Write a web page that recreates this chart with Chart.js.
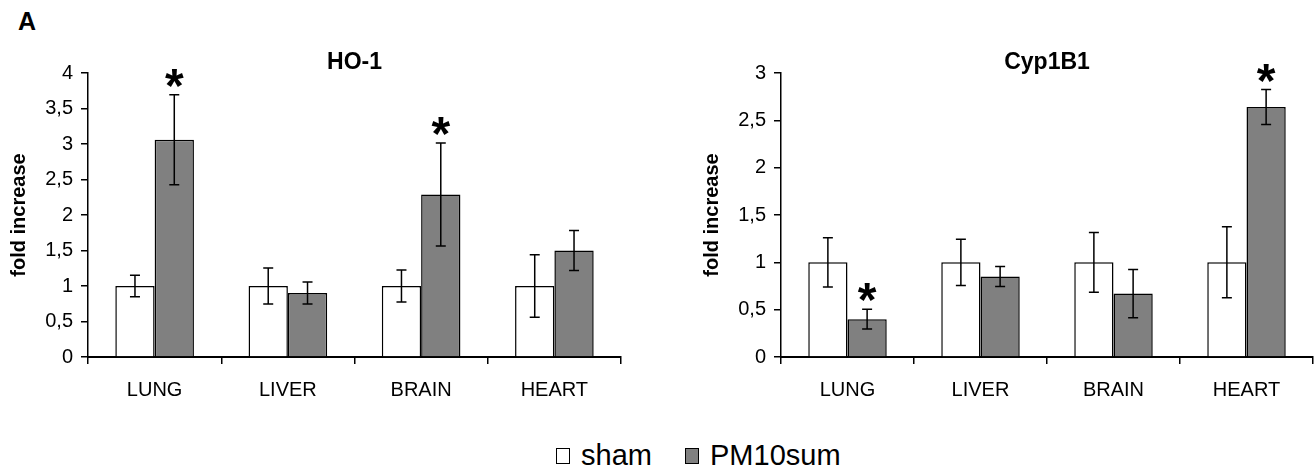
<!DOCTYPE html>
<html>
<head>
<meta charset="utf-8">
<script src="https://cdn.jsdelivr.net/npm/chart.js@4/dist/chart.umd.min.js"></script>
<style>
  body { margin: 0; background: #fff; width: 1316px; height: 469px; position: relative; overflow: hidden; font-family: "Liberation Sans", Arial, sans-serif; }
  .panel { position: absolute; top: 0; }
  #letter { position: absolute; left: 18px; top: 9px; font: bold 25px/25px "Liberation Sans", Arial, sans-serif; }
  .legend-box { position: absolute; width: 12px; height: 14px; border: 1.5px solid #000; }
  .legend-text { position: absolute; font: 29px/28px "Liberation Sans", Arial, sans-serif; color: #000; }
</style>
</head>
<body>
<div id="letter">A</div>
<div class="panel" style="left:0px"><canvas id="hoChart" width="640" height="420"></canvas></div>
<div class="panel" style="left:693px"><canvas id="cypChart" width="623" height="420"></canvas></div>

<div class="legend-box" style="left:556px; top:448px; background:#fff"></div>
<div class="legend-text" style="left:581px; top:441px">sham</div>
<div class="legend-box" style="left:685px; top:448px; background:#808080"></div>
<div class="legend-text" style="left:710px; top:441px">PM10sum</div>

<script>
const categories = ['LUNG', 'LIVER', 'BRAIN', 'HEART'];
const seriesNames = ['sham', 'PM10sum'];

// HO-1
const hoSham = [1, 1, 1, 1];
const hoShamErr = [0.15, 0.255, 0.225, 0.44];
const hoPm = [3.06, 0.9, 2.29, 1.5];
const hoPmErr = [0.635, 0.155, 0.725, 0.28];
const hoStars = [true, false, true, false];
const hoTicks = [0, 0.5, 1, 1.5, 2, 2.5, 3, 3.5, 4];

// Cyp1B1
const cypSham = [1, 1, 1, 1];
const cypShamErr = [0.26, 0.245, 0.315, 0.375];
const cypPm = [0.4, 0.85, 0.67, 2.64];
const cypPmErr = [0.105, 0.105, 0.255, 0.185];
const cypStars = [true, false, false, true];
const cypTicks = [0, 0.5, 1, 1.5, 2, 2.5, 3];

const FONT = '"Liberation Sans", Arial, sans-serif';

/* error bars + significance stars, drawn from the bar elements */
const errorBarPlugin = {
  id: 'errorBars',
  afterDatasetsDraw: function (chart) {
    const ctx = chart.ctx;
    const yScale = chart.scales.y;
    ctx.save();
    ctx.strokeStyle = '#000';
    ctx.lineWidth = 1.5;
    chart.data.datasets.forEach(function (ds, i) {
      const meta = chart.getDatasetMeta(i);
      meta.data.forEach(function (bar, j) {
        const v = ds.data[j];
        const e = ds.errors[j];
        const top = yScale.getPixelForValue(v + e);
        const bot = yScale.getPixelForValue(v - e);
        ctx.beginPath();
        ctx.moveTo(bar.x, top); ctx.lineTo(bar.x, bot);
        ctx.moveTo(bar.x - 5, top); ctx.lineTo(bar.x + 5, top);
        ctx.moveTo(bar.x - 5, bot); ctx.lineTo(bar.x + 5, bot);
        ctx.stroke();

        if (ds.stars && ds.stars[j]) {
          ctx.font = 'bold 48px ' + FONT;
          ctx.textAlign = 'center';
          ctx.textBaseline = 'alphabetic';
          ctx.fillStyle = '#000';
          const m = ctx.measureText('*');
          const cy = top - 17;
          const base = cy - (m.actualBoundingBoxDescent - m.actualBoundingBoxAscent) / 2;
          ctx.fillText('*', bar.x, base);
        }
      });
    });
    ctx.restore();
  }
};

/* panel title centred over the plot area, not the whole canvas */
const panelTitlePlugin = {
  id: 'panelTitle',
  afterDraw: function (chart, args, opts) {
    const ctx = chart.ctx;
    const area = chart.chartArea;
    ctx.save();
    ctx.font = 'bold 23px ' + FONT;
    ctx.fillStyle = '#000';
    ctx.textAlign = 'center';
    ctx.textBaseline = 'middle';
    ctx.fillText(opts.text, (area.left + area.right) / 2, 63);
    ctx.restore();
  }
};

const app = {
  buildChart: function (canvasId, title, sham, shamErr, pm, pmErr, stars, ticks, rightPad) {
    const ctx = document.getElementById(canvasId).getContext('2d');

    // eslint-disable-next-line no-undef
    return new Chart(ctx, {
      type: 'bar',
      data: {
        labels: categories,
        datasets: [{
          label: seriesNames[0],
          data: sham,
          errors: shamErr,
          backgroundColor: '#ffffff',
          borderColor: '#000000',
          borderWidth: 1.5,
        },
        {
          label: seriesNames[1],
          data: pm,
          errors: pmErr,
          stars: stars,
          backgroundColor: '#808080',
          borderColor: '#000000',
          borderWidth: 1.5,
        }]
      },
      options: {
        responsive: false,
        animation: false,
        devicePixelRatio: 1,
        categoryPercentage: 0.59,
        barPercentage: 1.0,
        layout: { padding: { left: 0, right: rightPad, top: 73, bottom: 0 } },
        plugins: {
          legend: { display: false },
          tooltip: { enabled: false },
          title: { display: false },
          panelTitle: { text: title },
        },
        scales: {
          x: {
            grid: { drawOnChartArea: false, drawTicks: true, tickLength: 7, color: '#000', lineWidth: 1.5 },
            border: { color: '#000', width: 2 },
            ticks: { color: '#000', font: { family: FONT, size: 20 }, padding: 14, maxRotation: 0 },
            afterFit: function (scale) { scale.height = 63; },
          },
          y: {
            min: ticks[0],
            max: ticks[ticks.length - 1],
            afterBuildTicks: function (scale) {
              scale.ticks = ticks.map(function (v) { return { value: v }; });
            },
            grid: { drawOnChartArea: false, drawTicks: true, tickLength: 7, color: '#000', lineWidth: 1.5 },
            border: { color: '#000', width: 1.5 },
            ticks: {
              color: '#000',
              font: { family: FONT, size: 20 },
              padding: 8,
              callback: function (value) { return String(value).replace('.', ','); },
            },
            title: {
              display: true,
              text: 'fold increase',
              color: '#000',
              font: { family: FONT, size: 20, weight: 'bold', lineHeight: 1.2 },
              padding: { top: 7, bottom: 0 },
            },
            afterFit: function (scale) { scale.width = 88; },
          }
        }
      },
      plugins: [errorBarPlugin, panelTitlePlugin]
    });
  },

  init: function () {
    const thisApp = this;
    thisApp.buildChart('hoChart', 'HO-1', hoSham, hoShamErr, hoPm, hoPmErr, hoStars, hoTicks, 19);
    thisApp.buildChart('cypChart', 'Cyp1B1', cypSham, cypShamErr, cypPm, cypPmErr, cypStars, cypTicks, 3);
  }
};

app.init();
</script>
</body>
</html>
